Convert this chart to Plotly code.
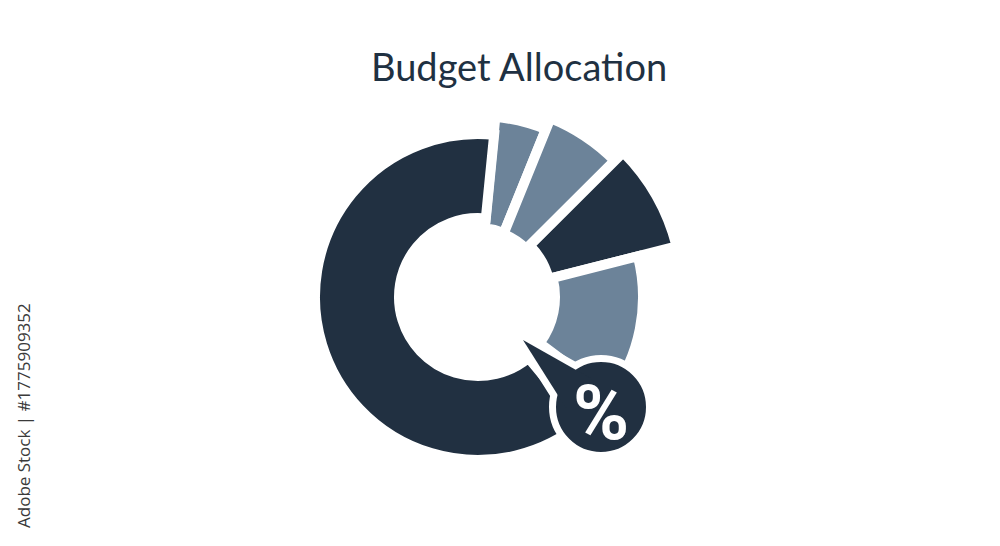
import plotly.graph_objects as go

DARK = "#213041"
LIGHT = "#6c8399"

# budget segments, clockwise from the top
segments = ["Segment A", "Segment B", "Segment C", "Segment D", "Segment E"]
shares = [4.6, 6.4, 8.5, 14.2, 62.6]          # percent of the full ring
outer = [181, 193, 205, 165, 163]             # outer radius of each wedge
inner = [69, 68, 73, 77, 79]                  # inner radius (base) of each wedge
colors = [LIGHT, LIGHT, DARK, LIGHT, DARK]

start_angle = 5.5      # degrees clockwise from north
callout_gap = 13.5     # room left for the % bubble after the 4th wedge

W, H, OFF = 1000, 546, 8   # page body margin shifts the figure by 8px


def px(x):
    return (x - OFF) / W


def py(y):
    return 1 - (y - OFF) / H


widths = [s * 3.6 for s in shares]
thetas = []
pos = start_angle
for i, w in enumerate(widths):
    thetas.append(pos + w / 2)
    pos += w
    if i == 3:
        pos += callout_gap

fig = go.Figure(data=[
    go.Barpolar(
        r=[o - b for o, b in zip(outer, inner)],
        base=inner,
        theta=thetas,
        width=widths,
        text=segments,
        marker=dict(color=colors, line=dict(color="white", width=10)),
        hovertemplate="%{text}<extra></extra>",
    )
])

cx, cy, half = 478, 297, 215
fig.update_layout(
    width=W,
    height=H,
    margin=dict(l=0, r=0, t=0, b=0),
    paper_bgcolor="white",
    plot_bgcolor="white",
    showlegend=False,
    polar=dict(
        domain=dict(x=[px(cx - half), px(cx + half)],
                    y=[py(cy + half), py(cy - half)]),
        bgcolor="white",
        bargap=0,
        radialaxis=dict(range=[0, half], visible=False),
        angularaxis=dict(visible=False, rotation=90, direction="clockwise"),
    ),
)

# % callout: pointer + bubble with a white outline
tip, p2, p3 = (523, 340), (592, 379), (566, 408)
pointer = "M {} {} L {} {} L {} {} Z".format(
    px(tip[0]), py(tip[1]), px(p2[0]), py(p2[1]), px(p3[0]), py(p3[1]))
bx, by, br = 601, 407, 48.5
fig.add_shape(type="path", path=pointer, xref="paper", yref="paper",
              fillcolor=DARK, line=dict(color="white", width=14), layer="above")
fig.add_shape(type="circle", xref="paper", yref="paper",
              x0=px(bx - br), x1=px(bx + br), y0=py(by + br), y1=py(by - br),
              fillcolor=DARK, line=dict(color="white", width=7), layer="above")
fig.add_shape(type="path", path=pointer, xref="paper", yref="paper",
              fillcolor=DARK, line=dict(width=0), layer="above")

fig.add_annotation(x=px(601), y=py(413), xref="paper", yref="paper",
                   xanchor="center", yanchor="middle",
                   text="<b>%</b>", showarrow=False,
                   font=dict(family="Roboto", size=76, color="white"))

fig.add_annotation(x=px(519), y=py(66), xref="paper", yref="paper",
                   xanchor="center", yanchor="middle",
                   text="Budget Allocation", showarrow=False,
                   font=dict(family="Lato", size=38, color="#1f3142"))

fig.add_annotation(x=px(23), y=py(416), xref="paper", yref="paper",
                   xanchor="center", yanchor="middle",
                   text="Adobe Stock | #1775909352", textangle=-90,
                   showarrow=False,
                   font=dict(family="Open Sans", size=17, color="#3a3a3a"))

fig.write_html("out.html")
